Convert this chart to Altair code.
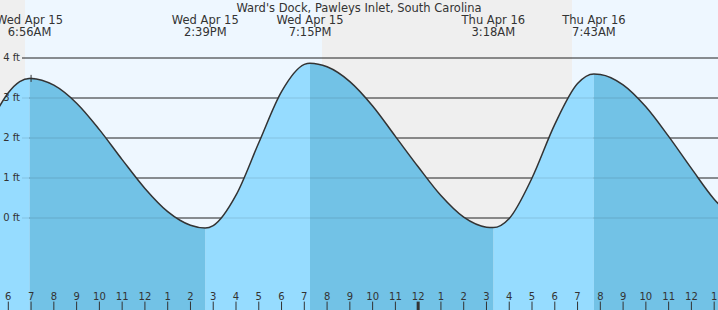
import altair as alt
import pandas as pd

# Hours after 06:00 Wed Apr 15, tide heights in ft
hours = [-0.5, 0, 0.5, 1, 2, 3, 4, 5, 6, 7, 8, 9, 10, 11, 12, 13, 14, 15, 16, 17,
         18, 19, 20, 21, 22, 23, 24, 25, 26, 27, 28, 29, 30, 31, 31.5]
heights = [2.68, 3.13, 3.41, 3.49, 3.32, 2.87, 2.21, 1.46, 0.74, 0.16, -0.18, -0.19,
           0.57, 1.88, 3.16, 3.84, 3.78, 3.41, 2.80, 2.04, 1.28, 0.56, 0.02, -0.23,
           -0.01, 1.00, 2.34, 3.36, 3.59, 3.33, 2.78, 2.04, 1.24, 0.47, 0.17]

# Extremes (high/low tides)
ext_hours = [0.933, 8.65, 13.25, 21.3, 25.717]
ext_heights = [3.49, -0.25, 3.87, -0.24, 3.60]
ext_is_high = [True, False, True, False, True]
ext_dates = ["Wed Apr 15", "Wed Apr 15", "Wed Apr 15", "Thu Apr 16", "Thu Apr 16"]
ext_times = ["6:56AM", "2:39PM", "7:15PM", "3:18AM", "7:43AM"]

# Night / day bands (hours)
night_start = [-1.0, 13.775]
night_end = [0.733, 24.76]
day_start = [0.733, 24.76]
day_end = [13.775, 32.0]

# Hour ticks
tick_hours = list(range(0, 32))
midnight_hour = 18

# Y grid levels (ft)
y_levels = [0, 1, 2, 3, 4]

# Current-time marker
now_hour = [1.0]
now_height = [3.49]

title_text = "Ward's Dock, Pawleys Inlet, South Carolina"

X_DOMAIN = [-0.3645, 31.168]
Y_DOMAIN = [-2.3, 5.45]
FONT = "DejaVu Sans"
TXT = "#333333"

xs = alt.Scale(domain=X_DOMAIN, nice=False, zero=False)
ys = alt.Scale(domain=Y_DOMAIN, nice=False, zero=False)

# Build curve table
all_pts = sorted(list(zip(hours, heights)) + list(zip(ext_hours, ext_heights)))
curve = pd.DataFrame(all_pts, columns=["h", "ft"])

bounds = [-1e9] + ext_hours + [1e9]
rows = []
for i in range(len(bounds) - 1):
    lo, hi = bounds[i], bounds[i + 1]
    if i < len(ext_hours):
        phase = "rise" if ext_is_high[i] else "fall"
    else:
        phase = "fall" if ext_is_high[-1] else "rise"
    for h, v in all_pts:
        if lo <= h <= hi:
            rows.append({"h": h, "ft": v, "seg": i, "phase": phase, "base": Y_DOMAIN[0]})
segs = pd.DataFrame(rows)

night = pd.DataFrame({"s": night_start, "e": night_end})
day = pd.DataFrame({"s": day_start, "e": day_end})
for d in (night, day):
    d["y0"] = Y_DOMAIN[0]
    d["y1"] = Y_DOMAIN[1]

ext_df = pd.DataFrame({"h": ext_hours})
ext_df["label"] = [f"{d}\n{t}" for d, t in zip(ext_dates, ext_times)]

ticks = pd.DataFrame({"h": tick_hours})
ticks["label"] = [str(((6 + h - 1) % 12) + 1) for h in tick_hours]
ticks["w"] = [3 if h == midnight_hour else 1 for h in tick_hours]
ticks["y0"] = -2.09
ticks["y1"] = Y_DOMAIN[0]

grid = pd.DataFrame({"ft": y_levels})
grid["label"] = [f"{v} ft" for v in y_levels]

now_df = pd.DataFrame({"h": now_hour, "ft": now_height})
title_df = pd.DataFrame({"t": [title_text]})

X = lambda f: alt.X(f, scale=xs, axis=None)
Y = lambda f: alt.Y(f, scale=ys, axis=None)


def band(df, col):
    return alt.Chart(df).mark_rect(color=col).encode(x=X("s:Q"), x2="e:Q", y=Y("y0:Q"), y2="y1:Q")


def fill(phase, col):
    return alt.Chart(segs[segs["phase"] == phase]).mark_area(
        interpolate="monotone", color=col, opacity=1
    ).encode(x=X("h:Q"), y=Y("ft:Q"), y2="base:Q", detail="seg:N")


grid_dark = alt.Chart(grid).mark_rule(color="#333333", strokeWidth=1).encode(
    y=Y("ft:Q"), x=alt.value(22), x2=alt.value(718)
)
grid_faint = alt.Chart(grid).mark_rule(color="#000000", opacity=0.12, strokeWidth=1).encode(
    y=Y("ft:Q"), x=alt.value(22), x2=alt.value(718)
)

line = alt.Chart(curve).mark_line(interpolate="monotone", color="#333333", strokeWidth=1.5).encode(
    x=X("h:Q"), y=Y("ft:Q")
)

marker = alt.Chart(now_df).mark_point(
    shape="M-1,0L1,0M0,-1L0,1", size=50, color="#333333", strokeWidth=1, filled=False, opacity=1
).encode(x=X("h:Q"), y=Y("ft:Q"))

title = alt.Chart(title_df).mark_text(
    font=FONT, fontSize=11.5, color=TXT, align="center", baseline="alphabetic", x=359, y=11.5
).encode(text="t:N")

ext_label = alt.Chart(ext_df).mark_text(
    font=FONT, fontSize=11.5, color=TXT, align="center", baseline="alphabetic",
    y=23.7, lineBreak="\n", lineHeight=12
).encode(x=X("h:Q"), text="label:N")

tick_marks = alt.Chart(ticks).mark_rule(color="#333333").encode(
    x=X("h:Q"), y=Y("y0:Q"), y2="y1:Q",
    strokeWidth=alt.StrokeWidth("w:Q", scale=None),
)

tick_labels = alt.Chart(ticks).mark_text(
    font=FONT, fontSize=10, color=TXT, align="center", baseline="alphabetic", y=299.5
).encode(x=X("h:Q"), text="label:N")

y_labels = alt.Chart(grid).mark_text(
    font=FONT, fontSize=10, color=TXT, align="right", baseline="middle", x=20
).encode(y=Y("ft:Q"), text="label:N")

chart = alt.layer(
    band(night, "#efefef"), band(day, "#eef7ff"), grid_dark,
    fill("rise", "#96dcff"), fill("fall", "#72c2e6"), grid_faint, line, marker,
    title, ext_label, tick_marks, tick_labels, y_labels,
).properties(
    width=718, height=310, padding=0, autosize="none"
).configure_view(strokeWidth=0)

chart.save("out.html", embed_options={"renderer": "svg", "actions": False})
